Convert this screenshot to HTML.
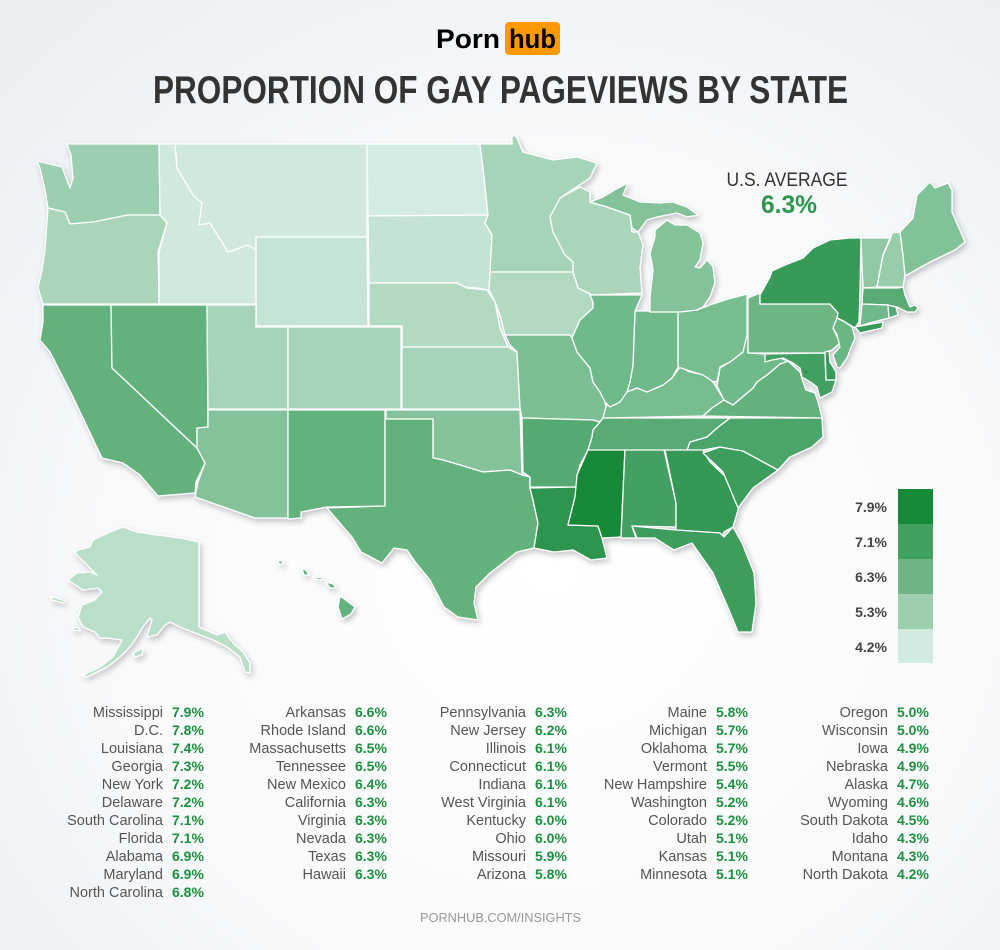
<!DOCTYPE html>
<html><head><meta charset="utf-8"><style>
html,body{margin:0;padding:0;width:1000px;height:950px;overflow:hidden;}
svg{display:block;}
.n{font-family:"Liberation Sans",sans-serif;font-size:14.5px;fill:#555;text-anchor:end;}
.v{font-family:"Liberation Sans",sans-serif;font-size:14px;font-weight:bold;fill:#1e8f3e;}
.lg{font-family:"Liberation Sans",sans-serif;font-size:14px;font-weight:bold;fill:#444;text-anchor:end;}
</style></head><body>
<svg width="1000" height="950" viewBox="0 0 1000 950" xmlns="http://www.w3.org/2000/svg">
<defs>
<radialGradient id="bg" cx="0.55" cy="0.6" r="0.75">
<stop offset="0" stop-color="#ffffff"/><stop offset="0.6" stop-color="#f7f9fb"/><stop offset="1" stop-color="#eaeff3"/>
</radialGradient>
<filter id="sh" x="-5%" y="-5%" width="110%" height="115%">
<feDropShadow dx="2" dy="3" stdDeviation="3" flood-color="#000" flood-opacity="0.22"/>
</filter>
</defs>
<rect width="1000" height="950" fill="url(#bg)"/>

<!-- Logo -->
<text x="436" y="48" font-family="Liberation Sans,sans-serif" font-weight="bold" font-size="27" fill="#000" textLength="64" lengthAdjust="spacingAndGlyphs">Porn</text>
<rect x="505" y="22" width="55" height="33" rx="4" fill="#ff9900"/>
<text x="509" y="48" font-family="Liberation Sans,sans-serif" font-weight="bold" font-size="27" fill="#000" textLength="47" lengthAdjust="spacingAndGlyphs">hub</text>

<!-- Title -->
<text x="153" y="103" font-family="Liberation Sans,sans-serif" font-weight="bold" font-size="39" fill="#333" textLength="695" lengthAdjust="spacingAndGlyphs">PROPORTION OF GAY PAGEVIEWS BY STATE</text>

<!-- US average -->
<text x="787" y="186" font-family="Liberation Sans,sans-serif" font-size="19" fill="#333" text-anchor="middle" textLength="121" lengthAdjust="spacingAndGlyphs">U.S. AVERAGE</text>
<text x="789" y="213" font-family="Liberation Sans,sans-serif" font-weight="bold" font-size="25" fill="#2e9550" text-anchor="middle" textLength="56" lengthAdjust="spacingAndGlyphs">6.3%</text>

<!-- Map -->
<g filter="url(#sh)" stroke="#ffffff" stroke-width="1.3" stroke-linejoin="round">
<!-- WA -->
<polygon fill="#9ccfb0" points="67,144 159,144 160,215 128,215 118,217 93,222 70,224 65,212 48,208 45,190 40,168 37,161 62,167 70,188 73,178 71,155"/>
<!-- OR -->
<polygon fill="#aad5b9" points="48,208 65,212 70,224 93,222 118,217 128,215 160,215 167,223 158,252 159,304 43,304 38,288 42,270 45,250"/>
<!-- CA -->
<polygon fill="#63b27e" points="43,305 111,305 112,368 197,448 205,463 196,482 195,493 158,496 140,475 123,463 102,458 72,395 50,352 40,340 43,322"/>
<!-- NV -->
<polygon fill="#63b27e" points="111,305 207,305 208,428 197,428 197,448 112,368"/>
<!-- ID -->
<polygon fill="#d0e9dc" points="159,144 175,144 177,168 193,195 202,203 199,225 210,223 228,252 248,245 256,250 256,304 159,304 159,252 167,223 160,215"/>
<!-- MT -->
<polygon fill="#d0e9dc" points="175,144 367,144 367,237 256,237 256,250 248,245 228,252 210,223 199,225 202,203 193,195 177,168"/>
<!-- WY -->
<polygon fill="#c6e4d4" points="256,237 367,237 368,326 256,326"/>
<!-- UT -->
<polygon fill="#a6d4b8" points="207,305 256,305 256,327 288,327 288,409 208,409"/>
<!-- CO -->
<polygon fill="#a6d4b8" points="288,327 401,327 401,409 288,409"/>
<!-- AZ -->
<polygon fill="#84c39a" points="208,410 288,410 288,518 255,518 195,497 198,482 205,463 197,448 197,428 208,427"/>
<!-- NM -->
<polygon fill="#62b27d" points="288,410 385,410 385,506 327,507 301,512 301,518 288,519"/>
<!-- ND -->
<polygon fill="#d3ebe0" points="367,144 480,144 483,168 488,215 368,216"/>
<!-- SD -->
<polygon fill="#c5e3d2" points="368,216 488,215 485,223 492,235 492,272 489,290 477,288 465,287 457,283 369,283"/>
<!-- NE -->
<polygon fill="#b2dac1" points="369,283 457,283 467,288 487,290 495,302 500,328 508,347 402,347 402,326 369,326"/>
<!-- KS -->
<polygon fill="#a6d4b8" points="402,347 508,347 517,352 520,409 402,409"/>
<!-- OK -->
<polygon fill="#84c39a" points="386,410 520,410 522,475 510,470 483,472 460,465 443,460 433,458 433,419 386,419"/>
<!-- TX -->
<polygon fill="#63b27e" points="385,419 433,419 433,458 443,460 460,465 483,472 510,470 522,475 530,477 530,488 533,500 538,523 534,548 517,552 490,573 476,587 474,603 478,620 458,617 444,607 430,580 416,563 407,550 394,548 382,563 361,552 352,537 327,508 385,506"/>
<!-- MN -->
<polygon fill="#a6d4b8" points="480,144 512,144 512,136 516,136 523,152 553,160 577,157 597,163 590,178 560,198 550,217 553,232 565,255 573,262 573,272 490,272 492,235 485,223 488,215 483,168"/>
<!-- WI -->
<polygon fill="#aad5b9" points="560,198 580,187 590,192 590,202 607,207 630,215 632,232 638,232 643,245 640,268 642,293 592,295 578,288 573,272 573,262 565,255 553,232 550,217"/>
<!-- IA -->
<polygon fill="#b2dac1" points="490,272 573,272 578,288 592,295 593,308 580,320 572,338 570,335 505,335 500,315 495,302 489,290"/>
<!-- MO -->
<polygon fill="#7cbf94" points="505,335 570,335 572,338 577,352 590,368 593,382 600,392 605,402 607,412 603,418 600,422 593,420 522,418 520,408 517,352 510,345"/>
<!-- AR -->
<polygon fill="#55a972" points="522,418 593,420 600,422 593,430 592,437 588,450 580,465 577,475 577,487 530,487 530,477 523,472"/>
<!-- LA -->
<polygon fill="#2e9550" points="530,488 577,487 575,497 568,525 598,526 602,538 607,558 591,560 573,550 554,552 534,548 538,523 533,500"/>
<!-- MS -->
<polygon fill="#168a39" points="591,449 625,449 621,537 602,538 598,526 568,525 575,497 577,475 588,450"/>
<!-- AL -->
<polygon fill="#43a062" points="625,449 664,450 676,503 676,527 632,526 636,538 621,538"/>
<!-- GA -->
<polygon fill="#349955" points="665,450 701,447 710,462 729,480 740,503 733,527 724,532 722,537 720,533 676,530 676,503"/>
<!-- FL -->
<polygon fill="#3d9d5c" points="632,526 676,530 720,533 724,537 733,527 742,543 754,573 756,603 752,632 738,632 729,610 713,573 692,543 674,550 655,538 637,538"/>
<!-- SC -->
<polygon fill="#3d9d5c" points="703,453 720,447 743,451 778,470 753,488 738,508 723,472"/>
<!-- NC -->
<polygon fill="#4ca56b" points="730,418 822,418 823,437 812,447 790,457 778,470 743,451 720,447 703,450 687,450 690,442 707,437 717,428"/>
<!-- TN -->
<polygon fill="#58ab75" points="603,418 730,418 717,428 707,437 690,442 687,450 625,450 588,450 592,437 593,430 600,422"/>
<!-- KY -->
<polygon fill="#77bd90" points="603,418 605,410 608,400 620,393 637,388 647,392 663,385 672,378 680,367 690,372 705,375 713,382 718,390 724,400 712,408 703,416"/>
<!-- VA -->
<polygon fill="#63b27e" points="703,416 712,408 724,400 733,405 753,388 757,382 767,375 780,364 788,361 800,372 803,382 806,390 815,393 818,402 822,418"/>
<!-- WV -->
<polygon fill="#70b98a" points="717,386 720,368 730,362 743,352 745,335 748,335 748,353 765,354 770,356 780,358 788,361 780,364 767,375 757,382 753,388 733,405 724,400"/>
<!-- OH -->
<polygon fill="#77bd90" points="678,312 697,310 710,305 725,300 747,294 747,335 743,352 730,362 720,367 717,382 712,381 703,375 690,371 678,367"/>
<!-- IN -->
<polygon fill="#70b98a" points="635,311 678,311 678,367 672,378 663,385 647,392 637,388 627,392 630,382 633,365"/>
<!-- IL -->
<polygon fill="#70b98a" points="590,295 642,295 635,311 633,365 630,382 627,392 620,402 610,407 605,402 600,392 593,382 590,368 577,352 572,338 580,320 593,308 593,302"/>
<!-- MI UP -->
<polygon fill="#84c39a" points="590,202 603,197 618,188 628,183 623,195 640,202 660,203 673,202 687,207 698,215 687,217 677,213 667,215 657,217 647,220 638,232 632,228 630,215 607,207"/>
<!-- MI LP -->
<polygon fill="#84c39a" points="655,230 667,220 675,225 687,225 700,233 703,243 700,260 695,267 700,268 707,260 713,267 715,283 710,297 703,307 697,310 680,312 650,312 650,297 653,270 650,253 655,237"/>
<!-- PA -->
<polygon fill="#6db585" points="748,298 760,293 760,304 830,304 838,313 837,320 833,328 840,343 832,350 825,353 748,353"/>
<!-- NY -->
<polygon fill="#389a58" points="760,295 770,277 772,271 785,265 803,258 813,248 830,240 850,238 861,238 860,292 859,322 855,328 845,322 837,318 838,313 830,304 760,304"/>
<polygon fill="#389a58" points="855,327 883,322 882,328 860,333"/>
<!-- NJ -->
<polygon fill="#6ab685" points="837,318 845,322 852,327 855,338 850,350 847,358 840,368 837,367 833,355 840,347 837,335 833,328"/>
<!-- MD -->
<polygon fill="#43a062" points="765,354 825,353 826,380 836,380 832,392 820,398 817,387 812,383 802,377 800,368 793,363 783,358 772,360 765,362"/>
<!-- DE -->
<polygon fill="#389a58" points="825,352 829,351 830,362 836,372 836,380 826,380"/>
<!-- VT -->
<polygon fill="#8fc8a3" points="861,238 890,238 883,255 877,287 863,288"/>
<!-- NH -->
<polygon fill="#98cdaa" points="892,233 900,232 903,255 905,275 903,287 877,287 883,255 890,240"/>
<!-- ME -->
<polygon fill="#82c299" points="900,232 913,218 917,195 930,182 935,188 948,183 952,190 952,212 965,242 955,250 930,262 907,275 905,275 903,255"/>
<!-- MA -->
<polygon fill="#58ab75" points="863,288 898,288 903,287 905,295 910,307 915,305 918,308 915,312 907,312 897,307 888,305 862,304"/>
<!-- CT -->
<polygon fill="#70b98a" points="862,304 888,305 889,318 873,322 860,326"/>
<!-- RI -->
<polygon fill="#55a972" points="888,305 896,307 898,315 889,318"/>
<!-- AK -->
<polygon fill="#badfc9" points="199,542 199,627 217,635 225,632 233,643 243,652 250,663 250,673 245,672 240,657 227,647 213,640 180,627 170,622 165,625 157,635 147,637 152,620 150,618 142,628 137,637 130,647 120,657 107,667 87,677 83,675 100,667 113,657 122,640 107,638 100,638 95,632 83,627 78,617 82,605 95,600 102,592 98,588 83,590 68,580 77,573 90,572 97,575 82,560 75,553 78,550 90,547 93,540 110,532 123,527 137,532 157,535 180,538"/>
<polygon fill="#badfc9" points="133,653 143,648 142,655 135,657"/>
<polygon fill="#badfc9" points="50,597 57,598 65,601 63,603 52,600"/>
<polygon fill="#badfc9" points="72,627 79,628 80,631 74,630"/>
<!-- HI -->
<polygon fill="#63b27e" points="340,596 355,607 351,614 342,619 338,607"/>
<polygon fill="#63b27e" points="326,582 333,584 336,588 330,588"/>
<polygon fill="#63b27e" points="316,577 323,578 322,580 316,579"/>
<polygon fill="#63b27e" points="302,569 306,570 309,575 304,575"/>
<polygon fill="#63b27e" points="278,561 282,561 283,564 279,564"/>
</g>
<circle cx="806" cy="372" r="1.5" fill="#1e8f3e"/>

<!-- Legend -->
<rect x="898" y="489" width="35" height="35" fill="#178a3a"/>
<rect x="898" y="524" width="35" height="35" fill="#40a05e"/>
<rect x="898" y="559" width="35" height="35" fill="#6db585"/>
<rect x="898" y="594" width="35" height="35" fill="#9dceae"/>
<rect x="898" y="629" width="35" height="34" fill="#d2eadf"/>
<text class="lg" x="887" y="512">7.9%</text>
<text class="lg" x="887" y="547">7.1%</text>
<text class="lg" x="887" y="582">6.3%</text>
<text class="lg" x="887" y="617">5.3%</text>
<text class="lg" x="887" y="652">4.2%</text>

<!-- Table col1 -->
<g>
<text class="n" x="163" y="717">Mississippi</text><text class="v" x="172" y="717">7.9%</text>
<text class="n" x="163" y="735">D.C.</text><text class="v" x="172" y="735">7.8%</text>
<text class="n" x="163" y="753">Louisiana</text><text class="v" x="172" y="753">7.4%</text>
<text class="n" x="163" y="771">Georgia</text><text class="v" x="172" y="771">7.3%</text>
<text class="n" x="163" y="789">New York</text><text class="v" x="172" y="789">7.2%</text>
<text class="n" x="163" y="807">Delaware</text><text class="v" x="172" y="807">7.2%</text>
<text class="n" x="163" y="825">South Carolina</text><text class="v" x="172" y="825">7.1%</text>
<text class="n" x="163" y="843">Florida</text><text class="v" x="172" y="843">7.1%</text>
<text class="n" x="163" y="861">Alabama</text><text class="v" x="172" y="861">6.9%</text>
<text class="n" x="163" y="879">Maryland</text><text class="v" x="172" y="879">6.9%</text>
<text class="n" x="163" y="897">North Carolina</text><text class="v" x="172" y="897">6.8%</text>
</g>
<!-- col2 -->
<g>
<text class="n" x="346" y="717">Arkansas</text><text class="v" x="355" y="717">6.6%</text>
<text class="n" x="346" y="735">Rhode Island</text><text class="v" x="355" y="735">6.6%</text>
<text class="n" x="346" y="753">Massachusetts</text><text class="v" x="355" y="753">6.5%</text>
<text class="n" x="346" y="771">Tennessee</text><text class="v" x="355" y="771">6.5%</text>
<text class="n" x="346" y="789">New Mexico</text><text class="v" x="355" y="789">6.4%</text>
<text class="n" x="346" y="807">California</text><text class="v" x="355" y="807">6.3%</text>
<text class="n" x="346" y="825">Virginia</text><text class="v" x="355" y="825">6.3%</text>
<text class="n" x="346" y="843">Nevada</text><text class="v" x="355" y="843">6.3%</text>
<text class="n" x="346" y="861">Texas</text><text class="v" x="355" y="861">6.3%</text>
<text class="n" x="346" y="879">Hawaii</text><text class="v" x="355" y="879">6.3%</text>
</g>
<!-- col3 -->
<g>
<text class="n" x="526" y="717">Pennsylvania</text><text class="v" x="535" y="717">6.3%</text>
<text class="n" x="526" y="735">New Jersey</text><text class="v" x="535" y="735">6.2%</text>
<text class="n" x="526" y="753">Illinois</text><text class="v" x="535" y="753">6.1%</text>
<text class="n" x="526" y="771">Connecticut</text><text class="v" x="535" y="771">6.1%</text>
<text class="n" x="526" y="789">Indiana</text><text class="v" x="535" y="789">6.1%</text>
<text class="n" x="526" y="807">West Virginia</text><text class="v" x="535" y="807">6.1%</text>
<text class="n" x="526" y="825">Kentucky</text><text class="v" x="535" y="825">6.0%</text>
<text class="n" x="526" y="843">Ohio</text><text class="v" x="535" y="843">6.0%</text>
<text class="n" x="526" y="861">Missouri</text><text class="v" x="535" y="861">5.9%</text>
<text class="n" x="526" y="879">Arizona</text><text class="v" x="535" y="879">5.8%</text>
</g>
<!-- col4 -->
<g>
<text class="n" x="707" y="717">Maine</text><text class="v" x="716" y="717">5.8%</text>
<text class="n" x="707" y="735">Michigan</text><text class="v" x="716" y="735">5.7%</text>
<text class="n" x="707" y="753">Oklahoma</text><text class="v" x="716" y="753">5.7%</text>
<text class="n" x="707" y="771">Vermont</text><text class="v" x="716" y="771">5.5%</text>
<text class="n" x="707" y="789">New Hampshire</text><text class="v" x="716" y="789">5.4%</text>
<text class="n" x="707" y="807">Washington</text><text class="v" x="716" y="807">5.2%</text>
<text class="n" x="707" y="825">Colorado</text><text class="v" x="716" y="825">5.2%</text>
<text class="n" x="707" y="843">Utah</text><text class="v" x="716" y="843">5.1%</text>
<text class="n" x="707" y="861">Kansas</text><text class="v" x="716" y="861">5.1%</text>
<text class="n" x="707" y="879">Minnesota</text><text class="v" x="716" y="879">5.1%</text>
</g>
<!-- col5 -->
<g>
<text class="n" x="888" y="717">Oregon</text><text class="v" x="897" y="717">5.0%</text>
<text class="n" x="888" y="735">Wisconsin</text><text class="v" x="897" y="735">5.0%</text>
<text class="n" x="888" y="753">Iowa</text><text class="v" x="897" y="753">4.9%</text>
<text class="n" x="888" y="771">Nebraska</text><text class="v" x="897" y="771">4.9%</text>
<text class="n" x="888" y="789">Alaska</text><text class="v" x="897" y="789">4.7%</text>
<text class="n" x="888" y="807">Wyoming</text><text class="v" x="897" y="807">4.6%</text>
<text class="n" x="888" y="825">South Dakota</text><text class="v" x="897" y="825">4.5%</text>
<text class="n" x="888" y="843">Idaho</text><text class="v" x="897" y="843">4.3%</text>
<text class="n" x="888" y="861">Montana</text><text class="v" x="897" y="861">4.3%</text>
<text class="n" x="888" y="879">North Dakota</text><text class="v" x="897" y="879">4.2%</text>
</g>

<text x="420" y="922" font-family="Liberation Sans,sans-serif" font-size="13" fill="#999" textLength="161" lengthAdjust="spacingAndGlyphs">PORNHUB.COM/INSIGHTS</text>
</svg>
</body></html>
